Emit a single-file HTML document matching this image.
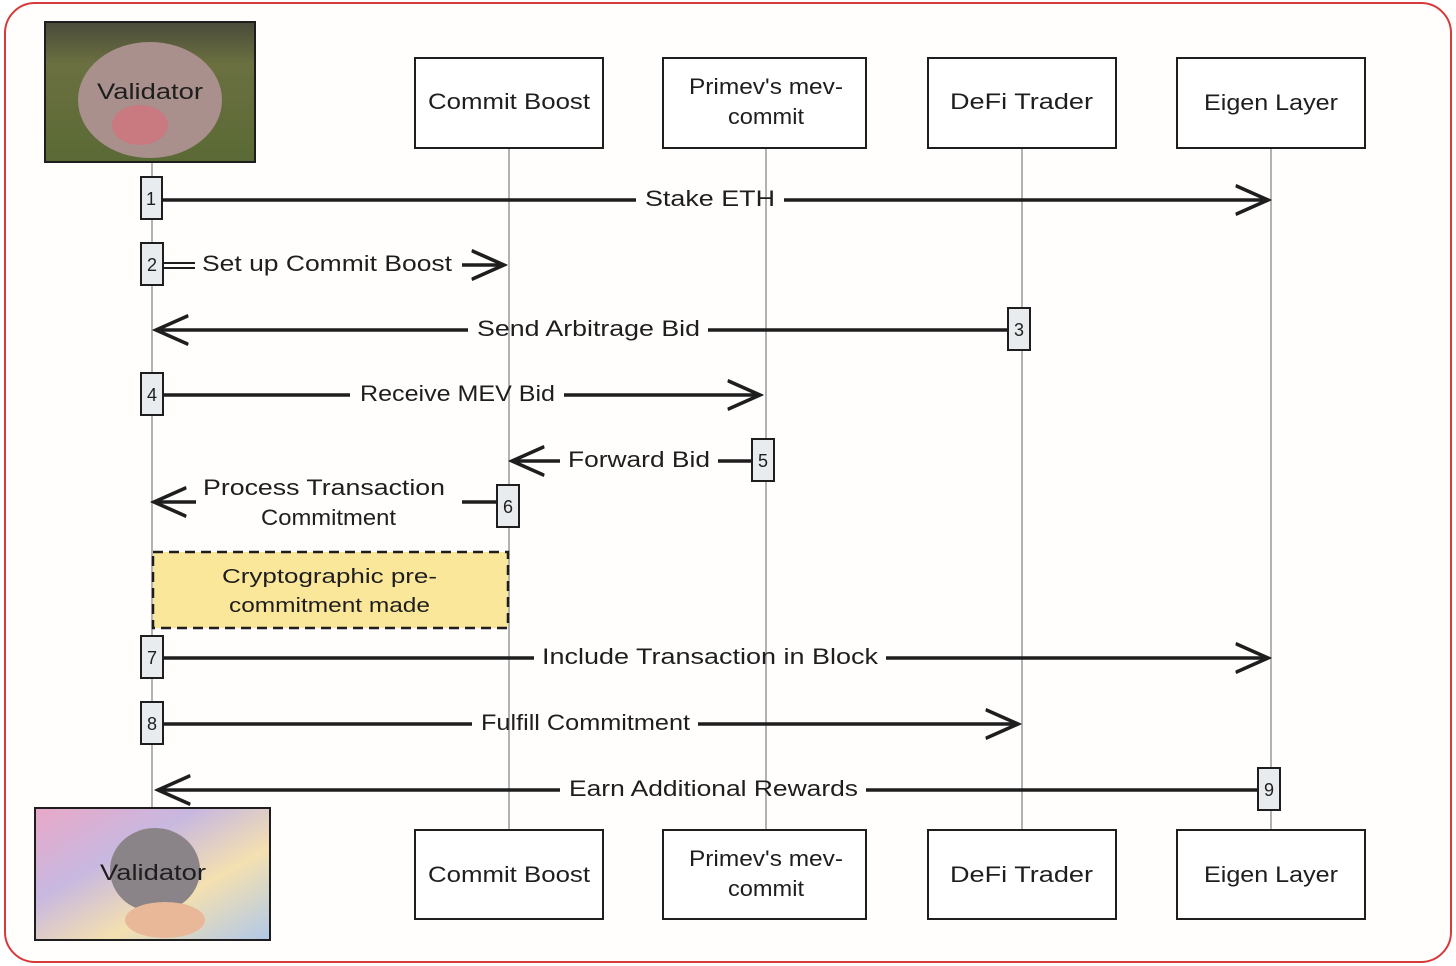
<!DOCTYPE html>
<html><head><meta charset="utf-8"><style>
html,body{margin:0;padding:0;background:#fff;}
svg{display:block;}
text{font-family:"Liberation Sans",sans-serif;fill:#1e1e1e;}
</style></head><body>
<svg width="1456" height="966" viewBox="0 0 1456 966" xmlns="http://www.w3.org/2000/svg">
<defs>
<linearGradient id="g1" x1="0" y1="0" x2="0" y2="1"><stop offset="0" stop-color="#4a4a3a"/><stop offset="0.3" stop-color="#6b7040"/><stop offset="1" stop-color="#5a6a35"/></linearGradient>
<linearGradient id="g2" x1="0" y1="0" x2="1" y2="1"><stop offset="0" stop-color="#e9a8c8"/><stop offset="0.35" stop-color="#c8b8e0"/><stop offset="0.65" stop-color="#f4e0b0"/><stop offset="1" stop-color="#b0c8e8"/></linearGradient>
<marker id="ah" viewBox="0 0 20 20" refX="18" refY="10" markerWidth="36" markerHeight="36" markerUnits="userSpaceOnUse" orient="auto"><path d="M0,2 L18,10 L0,18" fill="none" stroke="#1e1e1e" stroke-width="2"/></marker>
</defs>
<rect x="0" y="0" width="1456" height="966" fill="#fff"/>
<rect x="5" y="3" width="1446" height="959" rx="30" fill="#fffefc" stroke="#d63a3a" stroke-width="2"/>

<g stroke="#999" stroke-width="1.5">
<line x1="152" y1="160" x2="152" y2="810"/>
<line x1="509" y1="148" x2="509" y2="830"/>
<line x1="766" y1="148" x2="766" y2="830"/>
<line x1="1022" y1="148" x2="1022" y2="830"/>
<line x1="1271" y1="148" x2="1271" y2="830"/>
</g>

<rect x="45" y="22" width="210" height="140" fill="url(#g1)" stroke="#1e1e1e" stroke-width="2"/>
<ellipse cx="150" cy="100" rx="72" ry="58" fill="#a9908c"/>
<ellipse cx="140" cy="125" rx="28" ry="20" fill="#c87a80"/>
<text x="97" y="99" font-size="22" textLength="106" lengthAdjust="spacingAndGlyphs">Validator</text>

<rect x="35" y="808" width="235" height="132" fill="url(#g2)" stroke="#1e1e1e" stroke-width="2"/>
<ellipse cx="155" cy="870" rx="45" ry="42" fill="#8a8488"/>
<ellipse cx="165" cy="920" rx="40" ry="18" fill="#e8b898"/>
<text x="100" y="880" font-size="22" textLength="106" lengthAdjust="spacingAndGlyphs">Validator</text>

<g fill="#fff" stroke="#1e1e1e" stroke-width="2">
<rect x="415" y="58" width="188" height="90"/>
<rect x="663" y="58" width="203" height="90"/>
<rect x="928" y="58" width="188" height="90"/>
<rect x="1177" y="58" width="188" height="90"/>
<rect x="415" y="830" width="188" height="89"/>
<rect x="663" y="830" width="203" height="89"/>
<rect x="928" y="830" width="188" height="89"/>
<rect x="1177" y="830" width="188" height="89"/>
</g>
<g font-size="22" lengthAdjust="spacingAndGlyphs">
<text x="428" y="109" textLength="162" lengthAdjust="spacingAndGlyphs">Commit Boost</text>
<text x="689" y="94" textLength="154" lengthAdjust="spacingAndGlyphs">Primev's mev-</text><text x="728" y="124" textLength="76" lengthAdjust="spacingAndGlyphs">commit</text>
<text x="950" y="109" textLength="143" lengthAdjust="spacingAndGlyphs">DeFi Trader</text>
<text x="1204" y="110" textLength="134" lengthAdjust="spacingAndGlyphs">Eigen Layer</text>
<text x="428" y="882" textLength="162" lengthAdjust="spacingAndGlyphs">Commit Boost</text>
<text x="689" y="866" textLength="154" lengthAdjust="spacingAndGlyphs">Primev's mev-</text><text x="728" y="896" textLength="76" lengthAdjust="spacingAndGlyphs">commit</text>
<text x="950" y="882" textLength="143" lengthAdjust="spacingAndGlyphs">DeFi Trader</text>
<text x="1204" y="882" textLength="134" lengthAdjust="spacingAndGlyphs">Eigen Layer</text>
</g>

<rect x="153" y="552" width="355" height="76" fill="#fbe79a" stroke="#1e1e1e" stroke-width="2.5" stroke-dasharray="10 6"/>
<text x="222" y="583" font-size="20" textLength="215" lengthAdjust="spacingAndGlyphs">Cryptographic pre-</text>
<text x="229" y="612" font-size="20" textLength="201" lengthAdjust="spacingAndGlyphs">commitment made</text>

<g stroke="#1e1e1e" stroke-width="3.5" fill="none">
<line x1="162" y1="200" x2="636" y2="200"/><line x1="784" y1="200" x2="1268" y2="200" marker-end="url(#ah)"/>
<line x1="164" y1="263" x2="195" y2="263" stroke-width="2"/><line x1="164" y1="268" x2="195" y2="268" stroke-width="2"/><line x1="462" y1="265" x2="504" y2="265" marker-end="url(#ah)"/>
<line x1="1008" y1="330" x2="708" y2="330"/><line x1="468" y1="330" x2="156" y2="330" marker-end="url(#ah)"/>
<line x1="164" y1="395" x2="350" y2="395"/><line x1="564" y1="395" x2="760" y2="395" marker-end="url(#ah)"/>
<line x1="752" y1="461" x2="718" y2="461"/><line x1="560" y1="461" x2="512" y2="461" marker-end="url(#ah)"/>
<line x1="496" y1="502" x2="462" y2="502"/><line x1="196" y1="502" x2="154" y2="502" marker-end="url(#ah)"/>
<line x1="164" y1="658" x2="534" y2="658"/><line x1="886" y1="658" x2="1268" y2="658" marker-end="url(#ah)"/>
<line x1="164" y1="724" x2="472" y2="724"/><line x1="698" y1="724" x2="1018" y2="724" marker-end="url(#ah)"/>
<line x1="1258" y1="790" x2="866" y2="790"/><line x1="560" y1="790" x2="158" y2="790" marker-end="url(#ah)"/>
</g>
<g font-size="22">
<text x="645" y="206" textLength="130" lengthAdjust="spacingAndGlyphs">Stake ETH</text>
<text x="202" y="271" textLength="250" lengthAdjust="spacingAndGlyphs">Set up Commit Boost</text>
<text x="477" y="336" textLength="223" lengthAdjust="spacingAndGlyphs">Send Arbitrage Bid</text>
<text x="360" y="401" textLength="195" lengthAdjust="spacingAndGlyphs">Receive MEV Bid</text>
<text x="568" y="467" textLength="142" lengthAdjust="spacingAndGlyphs">Forward Bid</text>
<text x="203" y="495" textLength="242" lengthAdjust="spacingAndGlyphs">Process Transaction</text>
<text x="261" y="525" textLength="135" lengthAdjust="spacingAndGlyphs">Commitment</text>
<text x="542" y="664" textLength="336" lengthAdjust="spacingAndGlyphs">Include Transaction in Block</text>
<text x="481" y="730" textLength="209" lengthAdjust="spacingAndGlyphs">Fulfill Commitment</text>
<text x="569" y="796" textLength="289" lengthAdjust="spacingAndGlyphs">Earn Additional Rewards</text>
</g>

<g fill="#e9ecef" stroke="#1e1e1e" stroke-width="2">
<rect x="141" y="177" width="21" height="42"/>
<rect x="141" y="243" width="22" height="42"/>
<rect x="1008" y="308" width="22" height="42"/>
<rect x="141" y="373" width="22" height="42"/>
<rect x="752" y="439" width="22" height="42"/>
<rect x="497" y="485" width="22" height="42"/>
<rect x="141" y="636" width="22" height="42"/>
<rect x="141" y="702" width="22" height="42"/>
<rect x="1258" y="768" width="22" height="42"/>
</g>
<g font-size="18" text-anchor="middle">
<text x="151" y="205">1</text>
<text x="152" y="271">2</text>
<text x="1019" y="336">3</text>
<text x="152" y="401">4</text>
<text x="763" y="467">5</text>
<text x="508" y="513">6</text>
<text x="152" y="664">7</text>
<text x="152" y="730">8</text>
<text x="1269" y="796">9</text>
</g>
</svg>
</body></html>
